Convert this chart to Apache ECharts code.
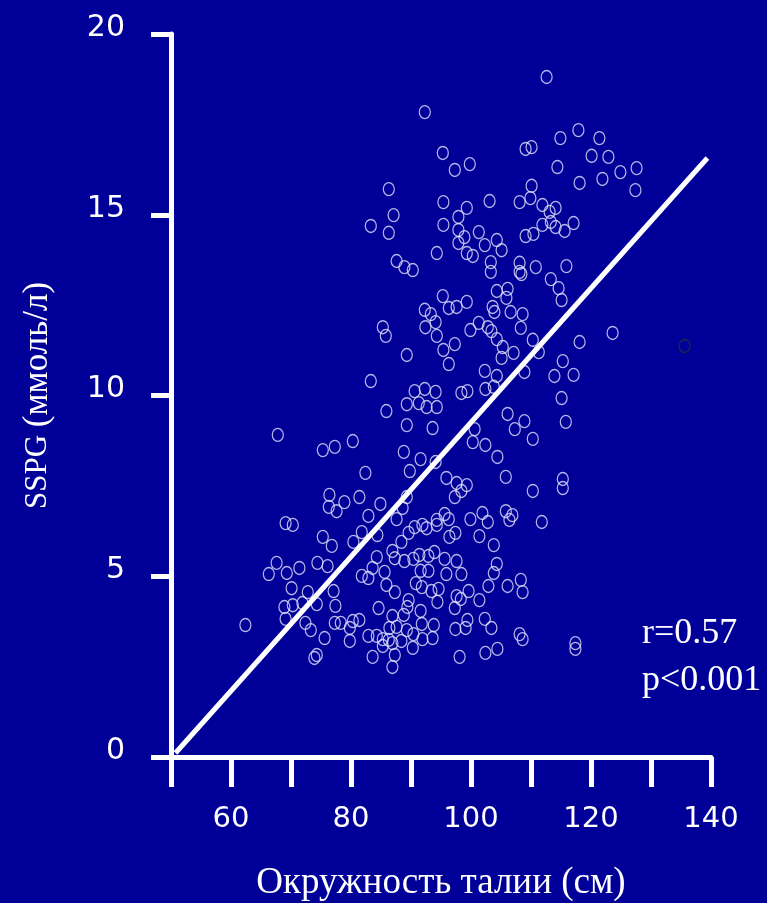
<!DOCTYPE html>
<html>
<head>
<meta charset="utf-8">
<script src="https://cdn.jsdelivr.net/npm/echarts@6/dist/echarts.min.js"></script>
<style>
html,body{margin:0;padding:0;background:#000099;}
#chart{width:767px;height:903px;}
</style>
</head>
<body>
<div id="chart"></div>
<script>
// Waist circumference (cm) and SSPG (mmol/l) for each subject
const waistCm = [
112.6,92.3,117.9,114.9,121.4,95.3,109.1,110.1,120.1,122.9,97.3,99.8,114.4,118.1,121.9,124.9,127.6,127.4,86.3,110.1,
95.4,99.3,103.1,108.1,109.9,111.9,113.1,114.1,87.1,97.9,83.3,86.3,95.4,97.9,98.9,97.9,101.3,102.3,104.3,105.1,
109.1,110.4,111.9,113.3,114.1,115.6,117.1,94.3,99.3,100.3,87.6,88.9,90.3,103.3,103.3,108.1,108.1,108.4,110.8,115.9,
113.3,114.6,115.1,95.3,96.3,97.6,99.3,92.3,93.3,94.1,92.4,94.3,85.3,85.8,104.3,106.1,105.9,103.6,103.9,106.6,
108.6,108.3,101.3,99.9,102.8,103.4,104.3,105.3,105.1,107.1,110.3,97.3,95.4,96.3,89.3,111.3,108.9,115.3,113.9,117.1,
118.1,123.6,102.3,104.3,102.4,103.8,98.4,99.4,83.3,90.6,92.3,94.1,89.3,91.3,92.6,94.3,85.9,89.3,93.6,67.8,
75.3,77.3,80.3,88.8,91.6,94.1,89.8,82.4,95.9,97.6,99.3,98.4,97.3,106.1,107.3,108.9,110.3,100.6,100.3,102.4,
104.4,105.8,110.3,115.1,115.8,115.3,115.3,76.4,76.3,77.6,78.9,81.4,84.9,82.9,89.3,88.6,87.6,69.1,70.3,75.3,
76.8,80.4,81.8,84.4,90.6,91.9,92.6,94.3,94.3,95.6,96.3,99.9,101.9,102.8,105.8,106.4,106.9,111.8,89.6,88.4,
86.9,87.3,84.3,88.9,90.4,91.4,92.9,93.9,95.6,97.6,96.4,97.4,101.4,103.8,67.6,66.3,69.3,71.4,74.4,76.1,
70.1,72.8,77.1,81.8,82.9,83.6,85.6,85.9,87.3,91.6,92.9,95.9,98.4,104.3,103.8,90.8,91.8,93.4,94.6,94.4,
97.6,98.3,99.6,97.3,101.4,102.9,106.1,108.3,108.6,68.9,70.3,71.9,74.3,77.4,69.1,72.4,73.3,62.4,77.3,78.3,
79.8,80.3,81.4,79.8,75.6,84.6,86.9,88.8,89.4,89.6,91.6,86.4,87.6,89.3,90.4,91.8,93.8,82.9,84.3,85.3,
85.3,86.3,86.9,88.4,90.3,91.9,93.6,87.3,86.9,83.6,73.9,74.3,97.4,99.1,99.4,102.3,103.4,98.1,102.4,104.4,
108.1,108.6,117.4,117.4
];
const sspg = [
18.81,17.84,17.34,17.12,17.12,16.71,16.82,16.87,16.63,16.60,16.24,16.40,16.32,15.88,15.99,16.18,16.29,15.68,15.71,15.80,
15.35,15.19,15.38,15.35,15.46,15.27,15.08,15.19,14.99,14.94,14.69,14.50,14.72,14.58,14.38,14.22,14.52,14.16,14.30,14.02,
14.41,14.47,14.72,14.80,14.66,14.55,14.77,13.94,13.94,13.86,13.72,13.55,13.47,13.69,13.42,13.67,13.42,13.36,13.55,13.58,
13.22,12.97,12.64,12.75,12.42,12.45,12.59,12.37,12.25,12.03,11.89,11.65,11.89,11.65,12.89,12.95,12.70,12.45,12.31,12.31,
12.25,11.87,12.01,11.81,11.89,11.78,11.56,11.34,11.04,11.18,11.54,11.42,11.26,10.87,11.12,11.20,10.65,10.95,10.54,10.57,
11.48,11.73,10.68,10.54,10.18,10.24,10.07,10.12,10.40,10.12,10.18,10.10,9.76,9.79,9.68,9.68,9.57,9.18,9.10,8.91,
8.49,8.58,8.74,8.44,8.24,8.16,7.91,7.86,7.72,7.58,7.52,7.36,7.19,9.49,9.07,9.29,8.80,9.07,8.71,8.63,
8.30,7.75,7.36,9.93,9.27,7.69,7.44,7.25,6.92,6.80,7.05,7.19,7.00,6.67,7.19,6.89,6.58,6.47,6.42,6.09,
5.84,5.95,6.22,6.14,6.36,6.42,6.33,6.56,6.42,6.72,6.58,6.58,6.75,6.50,6.80,6.56,6.69,6.50,6.20,5.95,
5.70,5.50,5.53,5.42,5.48,5.59,5.56,5.67,5.48,5.42,6.09,6.20,6.11,5.86,5.37,5.06,5.09,5.23,5.37,5.28,
4.67,4.56,4.59,5.01,4.95,5.23,5.12,4.76,4.56,5.15,5.15,5.06,5.06,5.34,5.09,4.81,4.70,4.59,4.65,4.29,
4.45,4.37,4.59,4.12,4.34,4.73,4.73,4.90,4.56,4.15,4.20,4.26,4.23,4.18,3.82,3.71,3.51,3.65,3.71,3.71,
3.57,3.76,3.79,3.21,3.29,4.12,3.90,3.93,4.15,4.34,4.04,3.57,3.60,3.51,3.40,3.68,3.65,3.35,3.35,3.26,
3.07,3.24,3.15,3.21,3.02,3.26,3.29,2.82,2.49,2.77,2.74,2.82,3.54,3.57,3.79,3.82,3.57,2.77,2.88,2.99,
3.40,3.26,3.15,2.99
];
// the one outlier drawn almost invisibly (dark outline)
const outlierWaist = [135.6];
const outlierSspg = [11.37];
// regression line end points
const fitWaist = [50.75, 139.4];
const fitSspg = [0.11, 16.57];
// axis settings
const xMin = 50, xMax = 140, xStep = 10;
const xLabelValues = [60, 80, 100, 120, 140];
const yMin = 0, yMax = 20, yStep = 5;
const xTitle = 'Окружность талии (см)';
const yTitleMain = 'SSPG';
const yTitleUnit = '(ммоль/л)';
const statLines = ['r=0.57', 'p<0.001'];

const pts = waistCm.map((x, i) => [x, sspg[i]]);
const outPts = outlierWaist.map((x, i) => [x, outlierSspg[i]]);
const fitPts = fitWaist.map((x, i) => [x, fitSspg[i]]);

const chart = echarts.init(document.getElementById('chart'), null, {renderer: 'canvas'});
const serif = '"Liberation Serif", "Times New Roman", serif';
const sans = '"DejaVu Sans", Verdana, sans-serif';
chart.setOption({
  backgroundColor: '#000099',
  animation: false,
  grid: {left: 171, right: 56, top: 34, bottom: 146, containLabel: false, outerBoundsMode: 'none'},
  xAxis: {
    type: 'value', min: xMin, max: xMax, interval: xStep,
    splitLine: {show: false},
    axisLine: {lineStyle: {color: '#fff', width: 5}},
    axisTick: {length: 30, lineStyle: {color: '#fff', width: 5}},
    axisLabel: {
      color: '#fff', fontFamily: sans, fontSize: 29, margin: 48,
      formatter: v => xLabelValues.includes(v) ? String(v) : ''
    },
    name: xTitle, nameLocation: 'middle', nameGap: 108,
    nameTextStyle: {color: '#fff', fontFamily: serif, fontSize: 37}
  },
  yAxis: {
    type: 'value', min: yMin, max: yMax, interval: yStep,
    splitLine: {show: false},
    axisLine: {lineStyle: {color: '#fff', width: 5}},
    axisTick: {length: 20, lineStyle: {color: '#fff', width: 5}},
    axisLabel: {color: '#fff', fontFamily: sans, fontSize: 30, margin: 46, verticalAlign: 'bottom', lineHeight: 12},
    name: '{a|' + yTitleMain + '} {b|' + yTitleUnit + '}', nameLocation: 'middle', nameGap: 116, nameRotate: 90,
    nameTextStyle: {
      color: '#fff', fontFamily: serif, fontSize: 31,
      rich: {
        a: {color: '#fff', fontFamily: serif, fontSize: 31},
        b: {color: '#fff', fontFamily: serif, fontSize: 35}
      }
    }
  },
  graphic: [{
    type: 'text', left: 642, top: 610,
    style: {text: statLines.join('\n'), fill: '#fff', font: '36px ' + serif, lineHeight: 47}
  }],
  series: [
    {
      type: 'scatter', data: pts, symbol: 'circle', symbolSize: [11, 13],
      itemStyle: {color: 'rgba(0,0,0,0)', borderColor: '#e4e4ff', borderWidth: 1.3},
      z: 3
    },
    {
      type: 'scatter', data: outPts, symbol: 'circle', symbolSize: [11, 13],
      itemStyle: {color: 'rgba(0,0,0,0)', borderColor: '#1c3a2a', borderWidth: 1.3},
      z: 3
    },
    {
      type: 'line', data: fitPts, symbol: 'none', silent: true,
      lineStyle: {color: '#fff', width: 5}, z: 4
    }
  ]
});
</script>
</body>
</html>
